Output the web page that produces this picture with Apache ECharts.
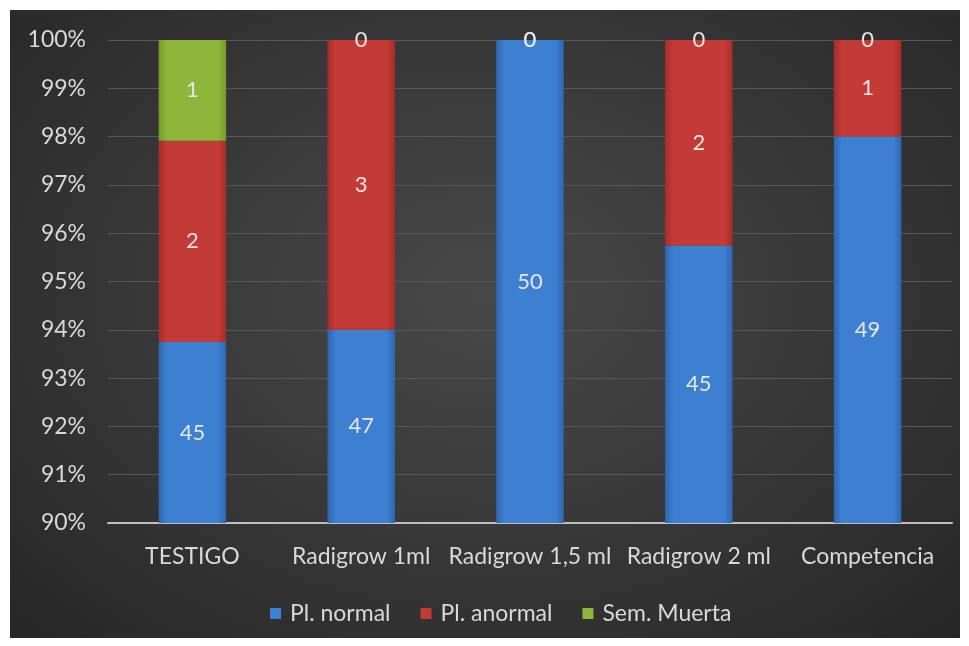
<!DOCTYPE html>
<html><head><meta charset="utf-8">
<script src="https://cdn.jsdelivr.net/npm/echarts@6/dist/echarts.min.js"></script>
<style>
html,body{margin:0;padding:0;background:#fff;width:969px;height:646px;overflow:hidden}
#c{position:absolute;left:10px;top:10px;width:950px;height:628px;
background:radial-gradient(ellipse at 50% 45%, #484848 0%, #3a3a3a 45%, #262626 100%);}
</style></head>
<body><div id="c"></div>
<script>
const categories = ['TESTIGO','Radigrow 1ml','Radigrow 1,5 ml','Radigrow 2 ml','Competencia'];
const normal  = [45, 47, 50, 45, 49];
const anormal = [2, 3, 0, 2, 1];
const muerta  = [1, 0, 0, 0, 0];
const seriesNames = ['Pl. normal','Pl. anormal','Sem. Muerta'];
const yTicks = [90,91,92,93,94,95,96,97,98,99,100];

const totals = categories.map((_, i) => normal[i] + anormal[i] + muerta[i]);
const pct = arr => arr.map((v, i) => v / totals[i] * 100);
const raw = [normal, anormal, muerta];

function grad(dark, mid) {
  return new echarts.graphic.LinearGradient(0, 0, 1, 0, [
    {offset: 0, color: dark}, {offset: 0.12, color: mid},
    {offset: 0.88, color: mid}, {offset: 1, color: dark}
  ]);
}
const colors = [
  grad('#2f66ad', '#3d7fd1'),
  grad('#a52d2a', '#c43a36'),
  grad('#759a2c', '#8db63a')
];
const legendColors = ['#3d7fd1', '#c43a36', '#8db63a'];

const chart = echarts.init(document.getElementById('c'));
const font = 'Lato, Open Sans, sans-serif';
const fs = 23;
chart.setOption({
  animation: false,
  textStyle: {fontFamily: font},
  grid: {left: 98, right: 8, top: 30, bottom: 115},
  legend: {
    bottom: 8, left: 255, itemWidth: 11, itemHeight: 11, itemGap: 30,
    icon: 'rect',
    textStyle: {color: '#d9d9d9', fontSize: fs, fontFamily: font, padding: [0, 0, 0, 4]},
    data: seriesNames.map((n, i) => ({name: n, itemStyle: {color: legendColors[i]}}))
  },
  xAxis: {
    type: 'category', data: categories,
    axisLine: {lineStyle: {color: '#bfbfbf', width: 2}},
    axisTick: {show: false},
    axisLabel: {color: '#d9d9d9', fontSize: fs, margin: 22, fontFamily: font, interval: 0}
  },
  yAxis: {
    type: 'value', min: yTicks[0], max: yTicks[yTicks.length - 1], interval: 1,
    axisLine: {show: false}, axisTick: {show: false},
    axisLabel: {color: '#d9d9d9', fontSize: fs, margin: 22, formatter: '{value}%', fontFamily: font},
    splitLine: {lineStyle: {color: '#575757', width: 1}}
  },
  series: raw.map((arr, s) => ({
    name: seriesNames[s], type: 'bar', stack: 'total', barWidth: '40%',
    data: pct(arr),
    itemStyle: {color: colors[s]},
    label: {
      show: true, position: 'inside', color: '#e6e6e6', fontSize: 22, fontFamily: font,
      formatter: p => String(raw[s][p.dataIndex])
    }
  }))
});
</script></body></html>
